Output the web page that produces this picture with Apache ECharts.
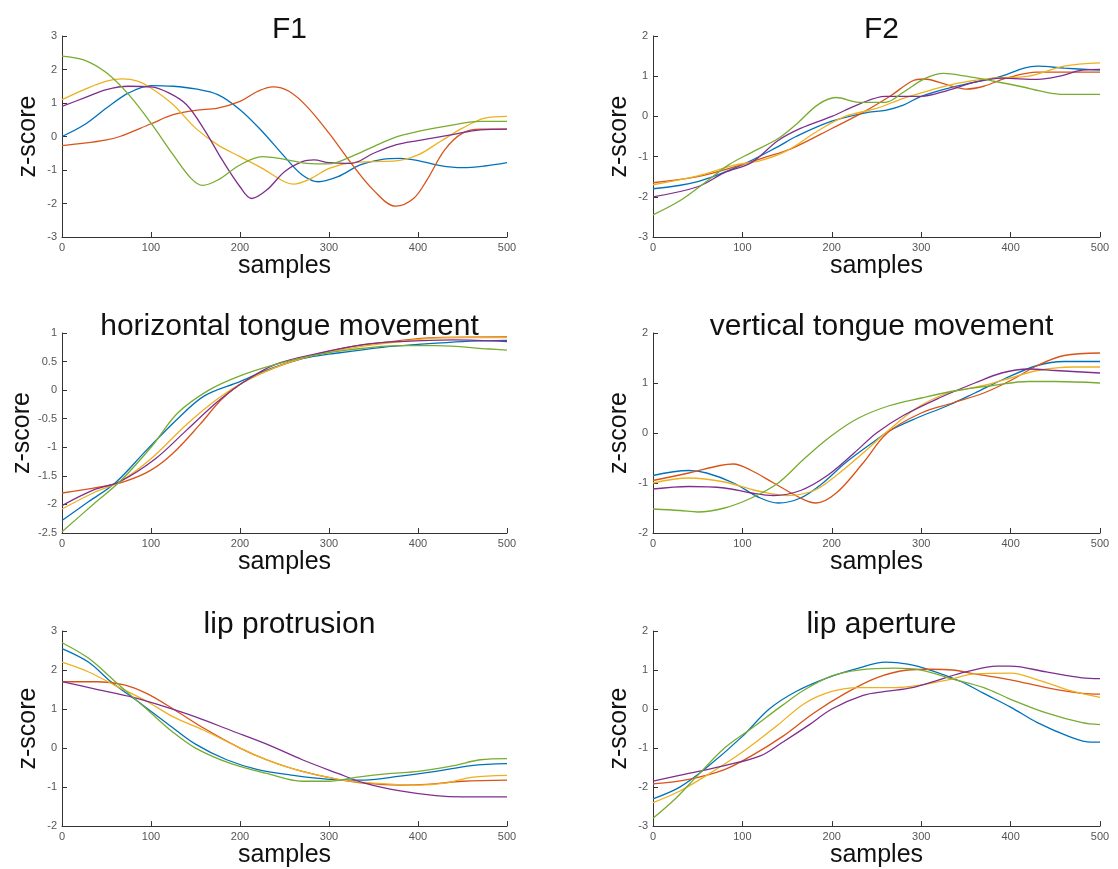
<!DOCTYPE html>
<html><head><meta charset="utf-8">
<script src="https://cdn.jsdelivr.net/npm/echarts@6/dist/echarts.min.js"></script>
<style>html,body{margin:0;padding:0;background:#fff}#c{width:1118px;height:869px}</style>
</head><body><div id="c"></div>
<script>
const panelTitles = ['F1','F2','horizontal tongue movement','vertical tongue movement','lip protrusion','lip aperture'];
const xLabel = 'samples';
const yLabel = 'z-score';
const yMins = [-3,-3,-2.5,-2,-2,-3];
const yMaxs = [3,2,1,2,3,2];
const yIntervals = [1,1,0.5,1,1,1];
const seriesColors = ['#0072BD','#D95319','#EDB120','#7E2F8E','#77AC30'];

const f1Blue = [[0,0],[25,0.35],[50,0.85],[75,1.3],[100,1.52],[125,1.5],[150,1.42],[175,1.25],[200,0.8],[225,0.15],[250,-0.6],[270,-1.15],[288,-1.35],[310,-1.2],[335,-0.85],[360,-0.68],[380,-0.65],[400,-0.72],[425,-0.87],[450,-0.93],[475,-0.88],[500,-0.78]];
const f1Orange = [[0,-0.27],[25,-0.2],[50,-0.1],[65,0],[100,0.38],[125,0.65],[150,0.78],[175,0.85],[200,1.05],[220,1.35],[237,1.48],[255,1.35],[275,0.9],[300,0.1],[325,-0.8],[350,-1.6],[375,-2.08],[395,-1.85],[410,-1.3],[430,-0.4],[450,0.1],[470,0.22],[500,0.22]];
const f1Yellow = [[0,1.1],[25,1.4],[50,1.65],[68,1.72],[85,1.65],[100,1.45],[125,0.95],[150,0.25],[175,-0.25],[200,-0.6],[225,-0.95],[250,-1.35],[260,-1.42],[280,-1.25],[300,-0.95],[325,-0.78],[350,-0.75],[375,-0.73],[400,-0.55],[425,-0.15],[450,0.25],[475,0.55],[500,0.6]];
const f1Purple = [[0,0.9],[25,1.15],[50,1.4],[75,1.5],[100,1.48],[120,1.3],[140,0.95],[160,0.2],[180,-0.7],[200,-1.5],[213,-1.85],[230,-1.6],[250,-1.05],[270,-0.75],[283,-0.7],[300,-0.78],[325,-0.8],[350,-0.5],[375,-0.25],[400,-0.12],[437,0.05],[470,0.2],[500,0.22]];
const f1Green = [[0,2.4],[25,2.28],[50,1.9],[75,1.25],[100,0.4],[125,-0.55],[145,-1.25],[158,-1.46],[175,-1.3],[200,-0.85],[225,-0.6],[250,-0.68],[275,-0.8],[300,-0.82],[325,-0.6],[350,-0.3],[375,-0.02],[400,0.15],[430,0.3],[470,0.45],[500,0.45]];

const f2Blue = [[0,-1.8],[50,-1.62],[100,-1.2],[140,-0.75],[160,-0.5],[200,-0.12],[240,0.1],[260,0.15],[280,0.28],[300,0.5],[330,0.7],[360,0.85],[390,1.0],[415,1.2],[430,1.25],[460,1.2],[500,1.15]];
const f2Orange = [[0,-1.65],[50,-1.5],[100,-1.2],[125,-1.02],[155,-0.8],[200,-0.3],[235,0.1],[265,0.5],[290,0.88],[303,0.93],[330,0.78],[350,0.68],[370,0.75],[395,0.95],[430,1.1],[500,1.1]];
const f2Yellow = [[0,-1.7],[50,-1.48],[90,-1.22],[120,-1.1],[150,-0.85],[185,-0.35],[215,0],[250,0.2],[280,0.45],[310,0.65],[340,0.82],[380,0.95],[420,1.0],[460,1.25],[500,1.33]];
const f2Purple = [[0,-2.0],[50,-1.75],[80,-1.4],[110,-1.15],[140,-0.6],[165,-0.3],[200,0],[230,0.3],[260,0.5],[300,0.5],[330,0.65],[360,0.85],[390,0.95],[430,0.92],[455,1.0],[480,1.15],[500,1.17]];
const f2Green = [[0,-2.45],[30,-2.1],[55,-1.7],[85,-1.2],[110,-0.9],[140,-0.55],[160,-0.2],[185,0.3],[205,0.47],[230,0.35],[260,0.35],[280,0.6],[305,0.95],[325,1.07],[350,1.0],[380,0.88],[410,0.75],[440,0.6],[460,0.55],[500,0.55]];

const htmBlue = [[0,-2.28],[30,-1.95],[60,-1.62],[95,-1.05],[130,-0.5],[160,-0.1],[200,0.15],[230,0.35],[270,0.55],[310,0.65],[360,0.75],[400,0.8],[450,0.85],[500,0.87]];
const htmOrange = [[0,-1.8],[40,-1.7],[70,-1.6],[100,-1.4],[125,-1.1],[155,-0.6],[180,-0.15],[205,0.15],[240,0.4],[280,0.6],[320,0.75],[370,0.85],[420,0.92],[500,0.93]];
const htmYellow = [[0,-2.08],[35,-1.8],[65,-1.6],[100,-1.2],[140,-0.6],[175,-0.15],[205,0.15],[240,0.4],[280,0.6],[330,0.75],[380,0.85],[430,0.92],[500,0.92]];
const htmPurple = [[0,-2.02],[35,-1.75],[65,-1.6],[105,-1.2],[140,-0.7],[175,-0.2],[205,0.15],[240,0.45],[290,0.65],[340,0.8],[380,0.85],[440,0.88],[500,0.85]];
const htmGreen = [[0,-2.48],[35,-2.0],[65,-1.6],[100,-1.0],[130,-0.4],[165,0],[200,0.25],[240,0.45],[280,0.6],[320,0.7],[380,0.78],[420,0.78],[480,0.72],[500,0.7]];

const vtmBlue = [[0,-0.85],[40,-0.75],[60,-0.8],[90,-1.0],[120,-1.3],[140,-1.4],[165,-1.3],[190,-1.0],[215,-0.6],[245,-0.2],[265,0.05],[295,0.3],[330,0.55],[360,0.8],[395,1.1],[430,1.35],[460,1.43],[500,1.43]];
const vtmOrange = [[0,-0.95],[40,-0.8],[75,-0.65],[90,-0.62],[110,-0.75],[135,-1.0],[165,-1.3],[182,-1.4],[205,-1.2],[235,-0.6],[262,0],[300,0.4],[335,0.6],[370,0.8],[400,1.05],[430,1.35],[460,1.55],[500,1.6]];
const vtmYellow = [[0,-1.0],[40,-0.9],[80,-0.98],[115,-1.15],[150,-1.25],[180,-1.15],[205,-0.85],[235,-0.4],[260,0],[295,0.5],[330,0.8],[370,0.95],[400,1.1],[430,1.25],[470,1.32],[500,1.32]];
const vtmPurple = [[0,-1.12],[40,-1.07],[80,-1.1],[110,-1.2],[135,-1.25],[165,-1.15],[195,-0.85],[225,-0.4],[250,0],[280,0.35],[320,0.7],[360,1.0],[390,1.2],[420,1.28],[450,1.25],[500,1.2]];
const vtmGreen = [[0,-1.52],[30,-1.55],[50,-1.58],[80,-1.5],[110,-1.3],[140,-1.0],[170,-0.5],[200,-0.05],[230,0.3],[265,0.55],[300,0.7],[340,0.85],[380,0.95],[420,1.03],[450,1.03],[500,1.0]];

const lpBlue = [[0,2.55],[30,2.2],[55,1.7],[85,1.2],[120,0.6],[150,0.1],[185,-0.3],[220,-0.55],[260,-0.7],[300,-0.8],[340,-0.82],[380,-0.72],[420,-0.6],[460,-0.45],[500,-0.4]];
const lpOrange = [[0,1.7],[40,1.7],[70,1.62],[95,1.4],[125,1.0],[160,0.5],[200,0],[230,-0.3],[270,-0.6],[310,-0.8],[340,-0.9],[380,-0.95],[410,-0.93],[450,-0.85],[500,-0.82]];
const lpYellow = [[0,2.2],[30,1.95],[60,1.6],[95,1.2],[125,0.8],[160,0.45],[200,0],[235,-0.35],[270,-0.6],[310,-0.8],[350,-0.9],[400,-0.95],[430,-0.9],[460,-0.75],[500,-0.7]];
const lpPurple = [[0,1.7],[40,1.5],[80,1.3],[110,1.1],[150,0.8],[190,0.45],[230,0.1],[270,-0.3],[310,-0.65],[340,-0.9],[380,-1.1],[420,-1.22],[450,-1.25],[500,-1.25]];
const lpGreen = [[0,2.7],[30,2.3],[60,1.7],[95,1.0],[125,0.4],[150,0],[190,-0.4],[230,-0.65],[270,-0.85],[300,-0.85],[330,-0.75],[370,-0.65],[400,-0.6],[440,-0.45],[470,-0.3],[500,-0.27]];

const laBlue = [[0,-2.3],[30,-2.0],[60,-1.5],[100,-0.7],[130,0],[160,0.45],[195,0.8],[230,1.05],[260,1.2],[285,1.15],[310,1.0],[345,0.7],[370,0.4],[400,0.05],[430,-0.35],[465,-0.7],[490,-0.85],[500,-0.85]];
const laOrange = [[0,-1.92],[40,-1.8],[80,-1.55],[110,-1.2],[145,-0.7],[180,-0.1],[215,0.4],[250,0.8],[285,1.0],[310,1.02],[335,1.0],[360,0.9],[400,0.75],[440,0.55],[480,0.4],[500,0.38]];
const laYellow = [[0,-2.4],[30,-2.1],[60,-1.7],[100,-1.1],[140,-0.4],[170,0.15],[200,0.45],[230,0.55],[270,0.55],[300,0.62],[330,0.75],[360,0.9],[400,0.92],[430,0.75],[470,0.45],[500,0.3]];
const laPurple = [[0,-1.85],[40,-1.65],[80,-1.45],[120,-1.2],[145,-0.85],[175,-0.4],[200,0],[235,0.35],[260,0.45],[290,0.55],[320,0.75],[350,0.95],[385,1.1],[400,1.1],[440,0.95],[480,0.8],[500,0.78]];
const laGreen = [[0,-2.8],[25,-2.3],[50,-1.7],[80,-1.0],[110,-0.5],[145,0.1],[170,0.5],[200,0.85],[230,1.0],[270,1.05],[300,1.0],[330,0.8],[370,0.55],[400,0.25],[440,-0.1],[480,-0.35],[500,-0.4]];

const panelData = [
  [f1Blue,f1Orange,f1Yellow,f1Purple,f1Green],
  [f2Blue,f2Orange,f2Yellow,f2Purple,f2Green],
  [htmBlue,htmOrange,htmYellow,htmPurple,htmGreen],
  [vtmBlue,vtmOrange,vtmYellow,vtmPurple,vtmGreen],
  [lpBlue,lpOrange,lpYellow,lpPurple,lpGreen],
  [laBlue,laOrange,laYellow,laPurple,laGreen]
];

const grids = [
  {left:62, top:36, width:445, height:201},
  {left:653, top:36, width:447, height:201},
  {left:62, top:333, width:445, height:200},
  {left:653, top:333, width:447, height:200},
  {left:62, top:631, width:445, height:200},
  {left:653, top:631, width:447, height:200}
];
const FONT = '"Liberation Sans", Arial, Helvetica, sans-serif';
const axisColor = '#333';
const labelColor = '#555';

const option = {
  backgroundColor:'#fff',
  animation:false,
  title: [], grid: [], xAxis: [], yAxis: [], series: []
};
panelTitles.forEach((t,i)=>{
  const g = grids[i];
  option.grid.push({left:g.left, top:g.top, width:g.width, height:g.height, containLabel:false});
  option.title.push({text:t, left:g.left + g.width/2, top:g.top - 26, textAlign:'center',
    textStyle:{fontFamily:FONT, fontSize:30, fontWeight:'normal', color:'#111'}});
  option.xAxis.push({type:'value', gridIndex:i, min:0, max:500, interval:100,
    name:xLabel, nameLocation:'middle', nameGap:7,
    nameTextStyle:{fontFamily:FONT, fontSize:25, color:'#111'},
    axisLine:{show:true, onZero:false, lineStyle:{color:axisColor, width:1}},
    axisTick:{show:true, inside:true, length:5, lineStyle:{color:axisColor}},
    axisLabel:{fontFamily:FONT, fontSize:11, color:labelColor, margin:5},
    splitLine:{show:false}});
  option.yAxis.push({type:'value', gridIndex:i, min:yMins[i], max:yMaxs[i], interval:yIntervals[i],
    name:yLabel, nameLocation:'middle', nameGap:21, nameRotate:90,
    nameTextStyle:{fontFamily:FONT, fontSize:25, color:'#111'},
    axisLine:{show:true, onZero:false, lineStyle:{color:axisColor, width:1}},
    axisTick:{show:true, inside:true, length:5, lineStyle:{color:axisColor}},
    axisLabel:{fontFamily:FONT, fontSize:11, color:labelColor, margin:5},
    splitLine:{show:false}});
  panelData[i].forEach((d,k)=>{
    option.series.push({type:'line', xAxisIndex:i, yAxisIndex:i, data:d, smooth:0.35,
      showSymbol:false, symbol:'none', lineStyle:{color:seriesColors[k], width:1.3},
      itemStyle:{color:seriesColors[k]}});
  });
});
const chart = echarts.init(document.getElementById('c'), null, {renderer:'canvas'});
chart.setOption(option);
</script>
</body></html>
